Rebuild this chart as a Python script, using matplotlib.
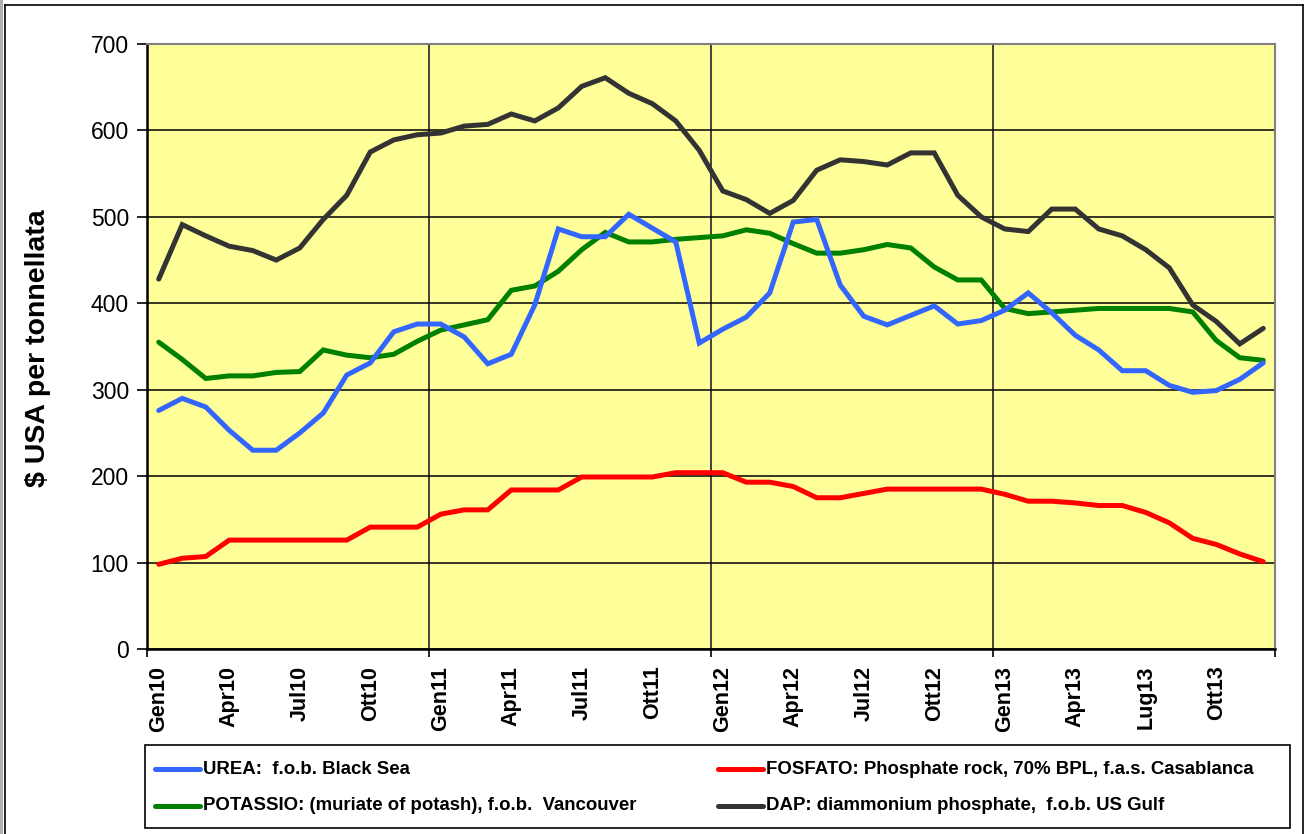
import matplotlib
matplotlib.use("Agg")
import matplotlib.pyplot as plt
from matplotlib.lines import Line2D
from matplotlib.patches import Rectangle
import numpy as np

plt.rcParams['font.family'] = ['Liberation Sans', 'DejaVu Sans']

months = ["Gen10","Feb10","Mar10","Apr10","Mag10","Giu10","Jul10","Ago10","Set10","Ott10","Nov10","Dic10",
          "Gen11","Feb11","Mar11","Apr11","Mag11","Giu11","Jul11","Ago11","Set11","Ott11","Nov11","Dic11",
          "Gen12","Feb12","Mar12","Apr12","Mag12","Giu12","Jul12","Ago12","Set12","Ott12","Nov12","Dic12",
          "Gen13","Feb13","Mar13","Apr13","Mag13","Giu13","Lug13","Ago13","Set13","Ott13","Nov13","Dic13"]
tick_labels = ["Gen10","Apr10","Jul10","Ott10","Gen11","Apr11","Jul11","Ott11",
               "Gen12","Apr12","Jul12","Ott12","Gen13","Apr13","Lug13","Ott13"]

urea = [276,290,280,253,230,230,250,273,317,331,367,376,
        376,361,330,341,398,486,477,477,503,487,471,354,
        370,384,412,494,497,421,385,375,386,397,376,380,
        392,412,389,363,346,322,322,305,297,299,312,331]
fosfato = [98,105,107,126,126,126,126,126,126,141,141,141,
           156,161,161,184,184,184,199,199,199,199,204,204,
           204,193,193,188,175,175,180,185,185,185,185,185,
           179,171,171,169,166,166,158,146,128,121,110,101]
potassio = [355,335,313,316,316,320,321,346,340,337,341,356,
            369,375,381,415,420,437,462,482,471,471,474,476,
            478,485,481,469,458,458,462,468,464,442,427,427,
            394,388,390,392,394,394,394,394,390,357,337,334]
dap = [428,491,478,466,461,450,464,497,525,575,589,595,
       597,605,607,619,611,626,651,661,643,631,611,577,
       530,520,504,519,554,566,564,560,574,574,525,500,
       486,483,509,509,486,478,462,441,398,379,353,371]

series_names = ["UREA:  f.o.b. Black Sea",
                "FOSFATO: Phosphate rock, 70% BPL, f.a.s. Casablanca",
                "POTASSIO: (muriate of potash), f.o.b.  Vancouver",
                "DAP: diammonium phosphate,  f.o.b. US Gulf"]
series_data = [urea, fosfato, potassio, dap]
series_colors = ["#3366FF", "#FF0000", "#008000", "#333333"]

W, H = 1310, 834
fig = plt.figure(figsize=(W/100, H/100), dpi=100)
fig.patch.set_facecolor("white")

def fx(px): return px / W
def fy(py): return 1 - py / H

ax = fig.add_axes([fx(147), fy(649), fx(1275) - fx(147), fy(44) - fy(649)])
ax.set_facecolor("#FFFF99")

x = np.arange(len(months))
for idx in [3, 2, 0, 1]:
    ax.plot(x, series_data[idx], color=series_colors[idx], lw=3.6, solid_capstyle='round',
            solid_joinstyle='miter', zorder=3)

ax.set_xlim(-0.5, len(months) - 0.5)
ax.set_ylim(0, 700)
ax.set_yticks(np.arange(0, 701, 100))
ax.tick_params(axis='y', labelsize=16.5, length=7, width=1.2, direction='out', pad=6)
ax.yaxis.grid(True, color='black', lw=1.1, zorder=1)

label_pos = [months.index(t) for t in tick_labels]
ax.set_xticks(label_pos)
ax.set_xticklabels(tick_labels, rotation=90, fontsize=15.5, fontweight='bold')
ax.tick_params(axis='x', length=0, pad=12)
ax.set_xticks([-0.5, 11.5, 23.5, 35.5, 47.5], minor=True)
ax.tick_params(axis='x', which='minor', length=6, width=1.2, direction='out')
for b in [11.5, 23.5, 35.5]:
    ax.axvline(b, color='#333333', lw=1.3, zorder=1)

for s in ['left', 'bottom']:
    ax.spines[s].set_color('black')
    ax.spines[s].set_linewidth(1.8)
for s in ['top', 'right']:
    ax.spines[s].set_color('#808080')
    ax.spines[s].set_linewidth(1.5)

fig.text(fx(38), fy(348), "$ USA per tonnellata", rotation=90, fontsize=20.5,
         fontweight='bold', ha='center', va='center')

# legend box
fig.add_artist(Rectangle((fx(145), fy(828)), fx(1290) - fx(145), fy(745) - fy(828),
                         transform=fig.transFigure, fill=False, edgecolor='black', lw=1.2))
leg_pos = [(155, 769), (718, 769), (155, 806), (718, 806)]
for (lx, ly), name, col in zip(leg_pos, series_names, series_colors):
    fig.add_artist(Line2D([fx(lx), fx(lx + 45)], [fy(ly), fy(ly)], transform=fig.transFigure,
                          color=col, lw=3.6, solid_capstyle='round'))
    fig.text(fx(lx + 48), fy(ly), name, fontsize=13.4, fontweight='bold', ha='left', va='center')

# outer chart frame
fig.add_artist(Rectangle((0, 0), fx(3), 1, transform=fig.transFigure, color='#b0b0b0', lw=0))
fig.add_artist(Line2D([fx(4.5), fx(4.5)], [0, fy(5)], transform=fig.transFigure, color='black', lw=1.2))
fig.add_artist(Line2D([fx(4.5), fx(1303)], [fy(5), fy(5)], transform=fig.transFigure, color='black', lw=1.2))
fig.add_artist(Line2D([fx(1303), fx(1303)], [0, fy(5)], transform=fig.transFigure, color='black', lw=1.2))

fig.savefig("out.png", dpi=100)
